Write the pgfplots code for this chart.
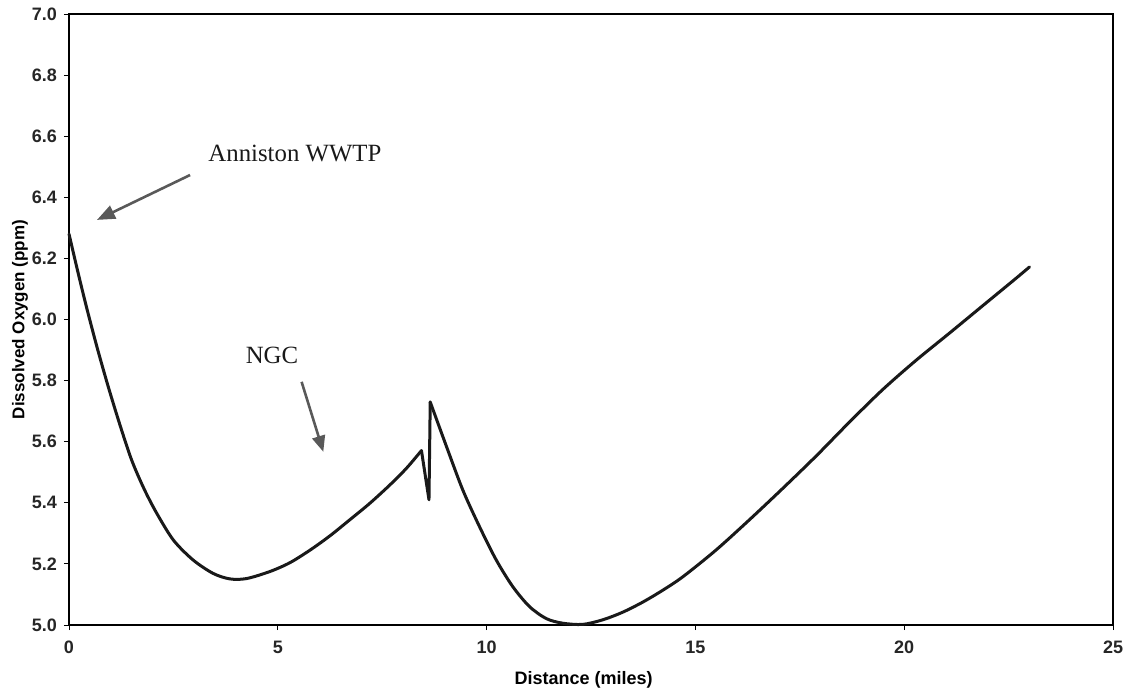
\documentclass[border=0pt]{standalone}
\usepackage{pgfplots}
\pgfplotsset{compat=1.18}
\usepackage{fontspec}
\setmainfont{Liberation Sans}
\newfontfamily\seriffont{Liberation Serif}
\usetikzlibrary{arrows.meta}
\begin{document}
\begin{tikzpicture}
\begin{axis}[
  at={(0,0)}, anchor=south west,
  scale only axis,
  width=522pt, height=305.5pt,
  xmin=0, xmax=25, ymin=5, ymax=7,
  xtick={0,5,10,15,20,25},
  ytick={5,5.2,5.4,5.6,5.8,6,6.2,6.4,6.6,6.8,7},
  yticklabel style={/pgf/number format/fixed,/pgf/number format/fixed zerofill,/pgf/number format/precision=1},
  /pgf/number format/assume math mode=true,
  ticklabel style={font=\bfseries\fontsize{9}{10}\selectfont, text=black!85},
  xticklabel style={yshift=-2pt},
  tick align=outside,
  major tick length=2.5pt,
  tick style={black, line width=0.5pt},
  xtick pos=bottom, ytick pos=left,
  axis line style={black, line width=0.6pt},
  every axis y label/.style={at={(axis description cs:-0.047,0.5)}, rotate=90, anchor=center, font=\bfseries\fontsize{8.5}{10}\selectfont},
  every axis x label/.style={at={(axis description cs:0.493,-0.09)}, anchor=center, font=\bfseries\fontsize{9}{10}\selectfont},
  ylabel={Dissolved Oxygen (ppm)},
  xlabel={Distance (miles)},
  clip=false,
]
\addplot[black!90, line width=1.5pt, line cap=round, line join=round, smooth, tension=0.5] coordinates {
(0.00,6.28) (0.20,6.163) (0.42,6.04) (0.68,5.905) (0.94,5.78) (1.22,5.655)
(1.50,5.54) (1.80,5.445) (2.10,5.366) (2.50,5.278) (2.97,5.213) (3.45,5.169)
(3.85,5.151) (4.25,5.152) (4.81,5.175) (5.29,5.204) (5.77,5.245) (6.24,5.291)
(6.72,5.344) (7.20,5.398) (7.68,5.458) (8.08,5.513) (8.44,5.571)
};
\addplot[black!90, line width=1.5pt, line cap=round, line join=round] coordinates {
(8.44,5.571) (8.62,5.41) (8.65,5.73)
};
\addplot[black!90, line width=1.5pt, line cap=round, line join=round, smooth, tension=0.5] coordinates {
(8.65,5.73) (9.04,5.584) (9.43,5.442) (9.83,5.322) (10.23,5.213) (10.63,5.125)
(11.03,5.060) (11.43,5.021) (11.82,5.006) (12.30,5.002) (12.78,5.017) (13.26,5.042)
(13.74,5.075) (14.22,5.114) (14.70,5.158) (15.49,5.245) (16.29,5.344) (17.09,5.447)
(17.89,5.553) (18.68,5.663) (19.48,5.770) (20.28,5.866) (21.08,5.955) (21.87,6.044)
(22.67,6.134) (23.00,6.172)
};
\node[font=\seriffont\fontsize{12.4}{14}\selectfont, text=black!90] at (axis cs:5.41,6.542) {Anniston WWTP};
\draw[black!65, line width=1.3pt, -{Triangle[length=9pt,width=7pt]}] (axis cs:2.90,6.473) -- (axis cs:0.67,6.326);
\node[font=\seriffont\fontsize{12.4}{14}\selectfont, text=black!90] at (axis cs:4.86,5.884) {NGC};
\draw[black!65, line width=1.3pt, -{Triangle[length=8pt,width=6.5pt]}] (axis cs:5.57,5.796) -- (axis cs:6.09,5.567);
\end{axis}
\pgfresetboundingbox
\useasboundingbox (-34.5pt,-34pt) rectangle (529.5pt,312.5pt);
\end{tikzpicture}
\end{document}
